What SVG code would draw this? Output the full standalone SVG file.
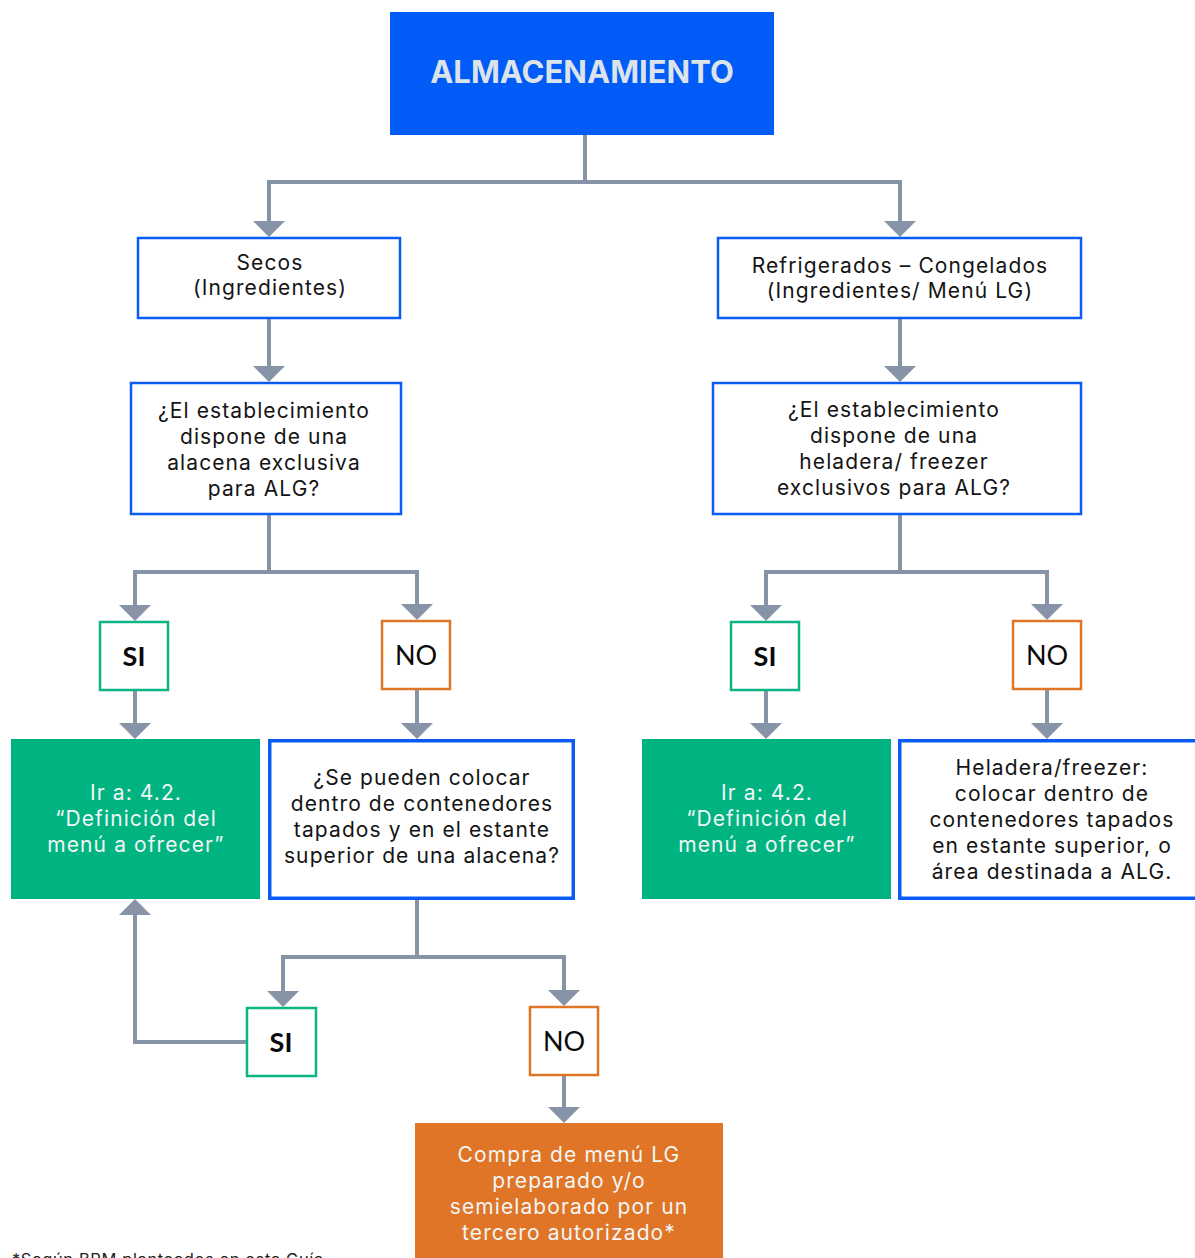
<svg xmlns="http://www.w3.org/2000/svg" width="1195" height="1258" viewBox="0 0 1195 1258">
<style>
.t{font-family:Inter,"Liberation Sans",sans-serif;font-size:21px;letter-spacing:1.1px;text-anchor:middle;fill:#141414}
.w{fill:#F2F5F4}
.yn{font-family:Lato,"Liberation Sans",sans-serif;font-size:27px;text-anchor:middle;fill:#0a0a0a}
.bl{fill:#fff;stroke:#0A5CF5;stroke-width:2.5}
.bl2{fill:#fff;stroke:#0A5CF5;stroke-width:3.5}
.gr{fill:#fff;stroke:#0DB584;stroke-width:2.5}
.or{fill:#fff;stroke:#E07527;stroke-width:2.5}
.c{fill:none;stroke:#8794A7;stroke-width:4;marker-end:url(#a)}
.c0{fill:none;stroke:#8794A7;stroke-width:4}
</style>
<defs>
<marker id="a" markerUnits="userSpaceOnUse" viewBox="-20 -20 40 40" markerWidth="40" markerHeight="40" refX="-10" refY="0" orient="auto">
<path d="M-16,-16 L0,0 L-16,16 z" fill="#8794A7"/>
</marker>
</defs>
<rect width="1195" height="1258" fill="#fff"/>
<g id="connectors">
<path class="c0" d="M585,135 V182"/>
<path class="c" d="M585,182 H269 V227"/>
<path class="c" d="M585,182 H900 V227"/>
<path class="c" d="M269,319 V372"/>
<path class="c" d="M900,319 V372"/>
<path class="c" d="M269,515 V572 H135 V611"/>
<path class="c" d="M269,572 H417 V610"/>
<path class="c" d="M900,515 V572 H766 V611"/>
<path class="c" d="M900,572 H1047 V610"/>
<path class="c" d="M135,691 V729"/>
<path class="c" d="M417,690 V729"/>
<path class="c" d="M766,691 V729"/>
<path class="c" d="M1047,690 V729"/>
<path class="c" d="M417,900 V957 H283 V997"/>
<path class="c" d="M417,957 H564 V996"/>
<path class="c" d="M246,1042 H135 V909"/>
<path class="c" d="M564,1076 V1113"/>
</g>
<g id="almacenamiento">
<rect x="390" y="12" width="384" height="123" fill="#005BF7"/>
<text x="582" y="83" font-family="Inter,'Liberation Sans',sans-serif" font-size="31" font-weight="700" text-anchor="middle" fill="#DCE3EA">ALMACENAMIENTO</text>
</g>
<g id="secos">
<rect class="bl" x="138" y="238" width="262" height="80"/>
<text class="t" x="270" y="270">Secos</text>
<text class="t" x="270" y="295">(Ingredientes)</text>
</g>
<g id="refrigerados">
<rect class="bl" x="718" y="238" width="363" height="80"/>
<text class="t" x="900" y="273">Refrigerados – Congelados</text>
<text class="t" x="900" y="298">(Ingredientes/ Menú LG)</text>
</g>
<g id="pregunta-alacena">
<rect class="bl" x="131" y="383" width="270" height="131"/>
<text class="t" x="264" y="418">¿El establecimiento</text>
<text class="t" x="264" y="444">dispone de una</text>
<text class="t" x="264" y="470">alacena exclusiva</text>
<text class="t" x="264" y="496">para ALG?</text>
</g>
<g id="pregunta-heladera">
<rect class="bl" x="713" y="383" width="368" height="131"/>
<text class="t" x="894" y="417">¿El establecimiento</text>
<text class="t" x="894" y="443">dispone de una</text>
<text class="t" x="894" y="469">heladera/ freezer</text>
<text class="t" x="894" y="495">exclusivos para ALG?</text>
</g>
<g id="si-1">
<rect class="gr" x="100" y="622" width="68" height="68"/>
<text class="yn" x="134" y="666" font-weight="700">SI</text>
</g>
<g id="no-1">
<rect class="or" x="382" y="621" width="68" height="68"/>
<text class="yn" x="416" y="665">NO</text>
</g>
<g id="si-2">
<rect class="gr" x="731" y="622" width="68" height="68"/>
<text class="yn" x="765" y="666" font-weight="700">SI</text>
</g>
<g id="no-2">
<rect class="or" x="1013" y="621" width="68" height="68"/>
<text class="yn" x="1047" y="665">NO</text>
</g>
<g id="ir-a-1">
<rect x="11" y="739" width="249" height="160" fill="#00B482"/>
<text class="t w" x="136" y="800">Ir a: 4.2.</text>
<text class="t w" x="136" y="826">“Definición del</text>
<text class="t w" x="136" y="852">menú a ofrecer”</text>
</g>
<g id="pregunta-contenedores">
<rect class="bl2" x="269.75" y="740.75" width="303.5" height="157.5"/>
<text class="t" x="422" y="785">¿Se pueden colocar</text>
<text class="t" x="422" y="811">dentro de contenedores</text>
<text class="t" x="422" y="837">tapados y en el estante</text>
<text class="t" x="422" y="863">superior de una alacena?</text>
</g>
<g id="ir-a-2">
<rect x="642" y="739" width="249" height="160" fill="#00B482"/>
<text class="t w" x="767" y="800">Ir a: 4.2.</text>
<text class="t w" x="767" y="826">“Definición del</text>
<text class="t w" x="767" y="852">menú a ofrecer”</text>
</g>
<g id="heladera">
<rect class="bl2" x="899.75" y="740.75" width="310" height="157.5"/>
<text class="t" x="1052" y="775">Heladera/freezer:</text>
<text class="t" x="1052" y="801">colocar dentro de</text>
<text class="t" x="1052" y="827">contenedores tapados</text>
<text class="t" x="1052" y="853">en estante superior, o</text>
<text class="t" x="1052" y="879">área destinada a ALG.</text>
</g>
<g id="si-3">
<rect class="gr" x="247" y="1008" width="69" height="68"/>
<text class="yn" x="281" y="1052" font-weight="700">SI</text>
</g>
<g id="no-3">
<rect class="or" x="530" y="1007" width="68" height="68"/>
<text class="yn" x="564" y="1051">NO</text>
</g>
<g id="compra">
<rect x="415" y="1123" width="308" height="150" fill="#E07527"/>
<text class="t w" x="569" y="1162">Compra de menú LG</text>
<text class="t w" x="569" y="1188">preparado y/o</text>
<text class="t w" x="569" y="1214">semielaborado por un</text>
<text class="t w" x="569" y="1240">tercero autorizado*</text>
</g>
<text x="12" y="1265" font-family="Inter,'Liberation Sans',sans-serif" font-size="16.5" letter-spacing="0.6" fill="#222">*Según BPM planteados en esta Guía</text>
</svg>
